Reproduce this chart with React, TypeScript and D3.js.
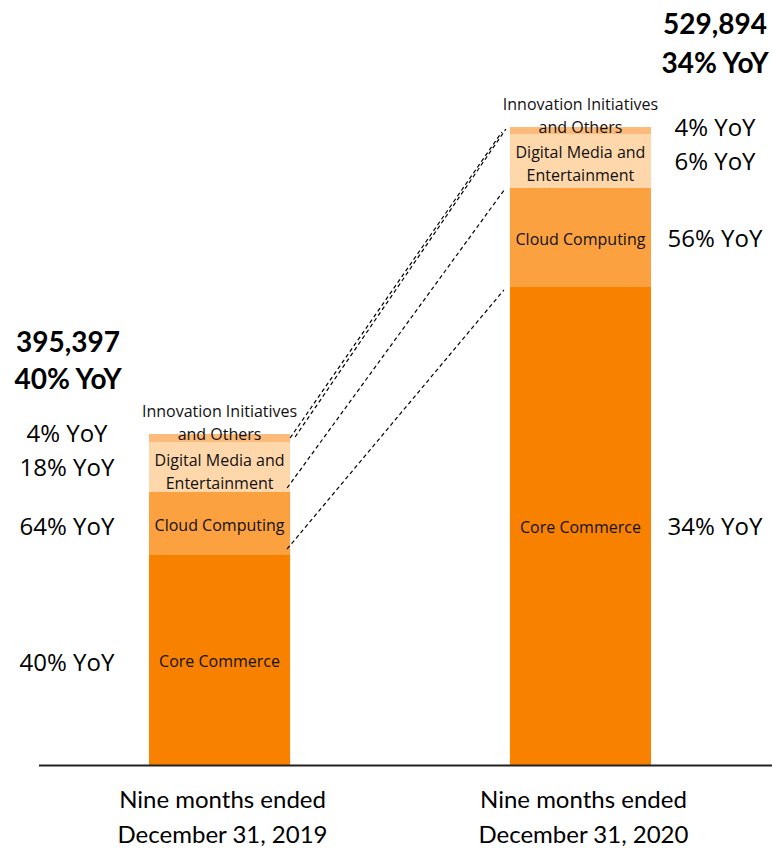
import React, { useRef, useEffect } from 'react'
import * as d3 from 'd3'

const width = 772
const height = 848

// periods on the x axis
const periods = ['2019', '2020']
const periodLines = [
  ['Nine months ended', 'December 31, 2019'],
  ['Nine months ended', 'December 31, 2020']
]
const totals = ['395,397', '529,894']
const totalYoY = ['40% YoY', '34% YoY']

// segments, bottom to top
const segments = ['core', 'cloud', 'dme', 'innov']
const segmentLabels = [
  ['Core Commerce'],
  ['Cloud Computing'],
  ['Digital Media and', 'Entertainment'],
  ['Innovation Initiatives', 'and Others']
]
const segmentColors = ['#f98100', '#fca140', '#fed7ab', '#fcbb7a']

// visual heights of each segment as drawn (core is not to scale)
const core = [210, 478]
const cloud = [63, 99]
const dme = [50, 54]
const innov = [8, 7]

const yoy2019 = ['40% YoY', '64% YoY', '18% YoY', '4% YoY']
const yoy2020 = ['34% YoY', '56% YoY', '6% YoY', '4% YoY']

const labelFont = '"Open Sans", "Noto Sans", sans-serif'
const catFont = 'Lato, "Open Sans", sans-serif'

const App: React.FC = () => {
  const svgRef = useRef<SVGSVGElement>(null)

  useEffect(() => {
    if (!svgRef.current) return
    const svg = d3.select(svgRef.current)
    svg.selectAll('*').remove()

    const rows = periods.map((p, i) => ({
      period: p,
      core: core[i],
      cloud: cloud[i],
      dme: dme[i],
      innov: innov[i]
    }))

    const x = d3.scaleBand()
      .domain(periods)
      .range([40, 760])
      .paddingInner(0.609)
      .paddingOuter(0.302)

    const y = d3.scaleLinear()
      .domain([0, 640])
      .range([765, 125])

    const stacked = d3.stack<any>().keys(segments)(rows)

    // bars
    stacked.forEach((layer, si) => {
      svg.append('g')
        .selectAll('rect')
        .data(layer)
        .join('rect')
        .attr('x', (d) => x(d.data.period) || 0)
        .attr('width', x.bandwidth())
        .attr('y', (d) => y(d[1]))
        .attr('height', (d) => y(d[0]) - y(d[1]))
        .style('fill', segmentColors[si])
    })

    // connector lines between segment boundaries
    const connectors = [
      { layer: 0, dx0: -3, dy0: -6, dx1: -6, dy1: 3 },
      { layer: 1, dx0: -3, dy0: -4, dx1: -5, dy1: 1 },
      { layer: 2, dx0: 0, dy0: -4, dx1: -8, dy1: -2 },
      { layer: 3, dx0: 5, dy0: 3, dx1: -4, dy1: 2 }
    ]
    const x0 = (x(periods[0]) || 0) + x.bandwidth()
    const x1 = x(periods[1]) || 0
    connectors.forEach((c) => {
      const a = stacked[c.layer][0][1]
      const b = stacked[c.layer][1][1]
      svg.append('line')
        .attr('x1', x0 + c.dx0)
        .attr('y1', y(a) + c.dy0)
        .attr('x2', x1 + c.dx1)
        .attr('y2', y(b) + c.dy1)
        .style('stroke', '#000')
        .style('stroke-width', 1.2)
        .style('stroke-dasharray', '4 3')
    })

    // axis baseline
    svg.append('line')
      .attr('x1', 39)
      .attr('x2', width)
      .attr('y1', y(0) + 0.5)
      .attr('y2', y(0) + 0.5)
      .style('stroke', '#222')
      .style('stroke-width', 2)

    // labels inside the bars
    periods.forEach((p, pi) => {
      const cx = (x(p) || 0) + x.bandwidth() / 2
      segments.forEach((s, si) => {
        const d = stacked[si][pi]
        const top = y(d[1])
        const mid = (y(d[0]) + y(d[1])) / 2
        let baselines: number[]
        if (si === 3) baselines = [top - 17, top + 6]
        else if (si === 2) baselines = [top + 24, top + 47]
        else baselines = [mid + 7]
        segmentLabels[si].forEach((line, li) => {
          svg.append('text')
            .attr('x', cx)
            .attr('y', baselines[li])
            .attr('text-anchor', 'middle')
            .style('font-family', labelFont)
            .style('font-size', '16px')
            .style('fill', '#111')
            .text(line)
        })
      })

      // YoY labels beside the bars
      const yoy = pi === 0 ? yoy2019 : yoy2020
      const lx = pi === 0 ? (x(p) || 0) - 82 : (x(p) || 0) + x.bandwidth() + 64
      const base = segments.map((s, si) => {
        const d = stacked[si][pi]
        return (y(d[0]) + y(d[1])) / 2 + 9
      })
      base[3] = base[2] - 34
      yoy.forEach((t, si) => {
        svg.append('text')
          .attr('x', lx)
          .attr('y', base[si] + (pi === 0 && si < 2 ? 2 : 0))
          .attr('text-anchor', 'middle')
          .style('font-family', labelFont)
          .style('font-size', '24px')
          .style('fill', '#000')
          .text(t)
      })

      // totals
      const top = y(stacked[3][pi][1])
      const dy = pi === 0 ? [-82, -45] : [-93, -54]
      const tx = pi === 0 ? lx + 1 : lx
      ;[totals[pi], totalYoY[pi]].forEach((t, ti) => {
        svg.append('text')
          .attr('x', tx)
          .attr('y', top + dy[ti])
          .attr('text-anchor', 'middle')
          .style('font-family', catFont)
          .style('font-weight', 'bold')
          .style('font-size', '28px')
          .style('fill', '#000')
          .text(t)
      })

      // period labels
      periodLines[pi].forEach((line, li) => {
        svg.append('text')
          .attr('x', cx + 3)
          .attr('y', 808 + li * 35)
          .attr('text-anchor', 'middle')
          .style('font-family', catFont)
          .style('font-size', '24px')
          .style('fill', '#000')
          .text(line)
      })
    })
  }, [])

  return (
    <svg
      ref={svgRef}
      width={width}
      height={height}
      style={{ position: 'absolute', left: 0, top: 0, background: '#fff' }}
    />
  )
}

export default App
